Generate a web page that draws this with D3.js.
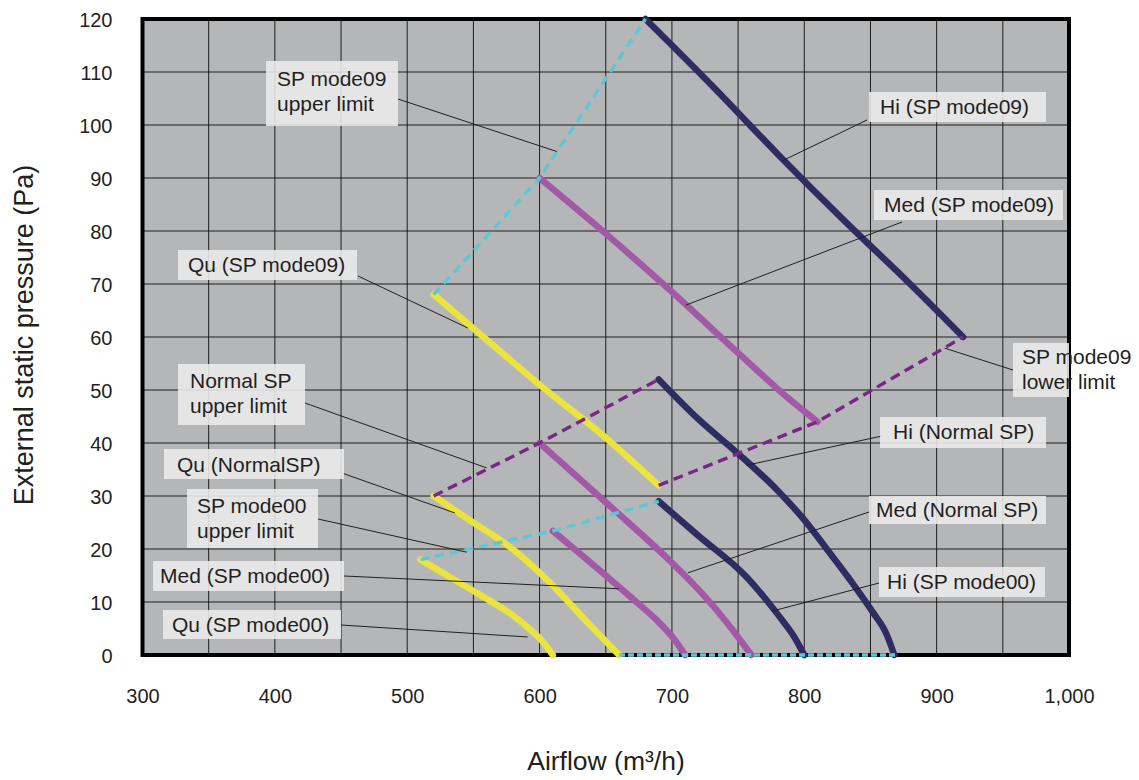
<!DOCTYPE html>
<html>
<head>
<meta charset="utf-8">
<script src="https://cdn.jsdelivr.net/npm/d3@7"></script>
<style>
  html, body { margin: 0; padding: 0; background: #ffffff; }
  svg { display: block; font-family: Arial, "Liberation Sans", Helvetica, sans-serif; }
</style>
</head>
<body>
<svg id="chart" width="1139" height="780"></svg>
<script>
// ---------- DATA ----------
const xTicks = [300, 400, 500, 600, 700, 800, 900, 1000];
const yTicks = [0, 10, 20, 30, 40, 50, 60, 70, 80, 90, 100, 110, 120];
const xTitle = "Airflow (m³/h)";
const yTitle = "External static pressure (Pa)";

// fan curves [airflow, pressure]
const hiSP09   = [[680,120],[730,107.5],[780,94.5],[830,82],[880,70],[920,60]];
const medSP09  = [[600,90],[650,79.5],[700,68.5],[750,57],[790,48],[810,44]];
const quSP09   = [[520,68],[560,59.5],[600,51],[650,41],[690,32]];
const hiNormal = [[690,52],[720,44.5],[750,38],[780,31],[800,25.5],[820,19],[838,13],[852,8],[862,4],[868,0]];
const medNormal= [[600,40],[655,27.7],[700,17.4],[725,11],[745,5],[760,0]];
const quNormal = [[520,30],[548,25.3],[577,20.5],[608,13.6],[633,7],[660,0]];
const hiSP00   = [[690,29],[720,22.5],[756,14.8],[770,10.8],[782,7],[792,3.6],[800,0]];
const medSP00  = [[610,23.4],[650,15],[675,9.6],[690,6.2],[701,3.2],[710,0]];
const quSP00   = [[510,18],[535,14.3],[560,10.6],[578,7.8],[592,5],[602,2.6],[610,0]];

// limit lines
const sp09Upper   = [[520,68],[600,90],[680,120]];
const normalUpper = [[520,30],[600,40],[690,52]];
const sp09Lower   = [[690,32],[810,44],[920,60]];
const sp00Upper   = [[510,18],[610,23.4],[690,29]];
const sp00Lower   = [[660,0],[870,0]];

// annotation texts and the data point each leader points to
const labelTexts = [
  ["SP mode09", "upper limit"], ["Hi (SP mode09)"], ["Med (SP mode09)"], ["Qu (SP mode09)"],
  ["Normal SP", "upper limit"], ["Qu (NormalSP)"], ["SP mode00", "upper limit"],
  ["Med (SP mode00)"], ["Qu (SP mode00)"], ["SP mode09", "lower limit"],
  ["Hi (Normal SP)"], ["Med (Normal SP)"], ["Hi (SP mode00)"]
];
const labelTargets = [
  [613,95], [783,93.2], [710.4,66], [545.8,61.7],
  [560,35.3], [536,26.8], [545,19.4],
  [659.8,12.5], [591,3.4], [906,57.9],
  [756.5,35.8], [712,15.5], [776,8.3]
];

// ---------- LAYOUT / STYLE ----------
const plot = { left: 142.5, right: 1069, top: 19, bottom: 655 };
const labelLayout = [
  { box:[266,61,398,126],  tx:277, by:[86,111], from:[398,99] },
  { box:[869,92,1046,122], tx:880, by:[114],    from:[867,120] },
  { box:[874,190,1063,220],tx:884, by:[212],    from:[902,222] },
  { box:[178,250,357,280], tx:188, by:[272],    from:[358,276] },
  { box:[178,364,305,425], tx:190, by:[388,413],from:[305,403] },
  { box:[164,449,344,479], tx:177, by:[472],    from:[339,472] },
  { box:[187,489,318,548], tx:197, by:[513,538],from:[318,519] },
  { box:[153,561,344,591], tx:160, by:[583],    from:[344,576] },
  { box:[163,610,341,639], tx:172, by:[632],    from:[341,625] },
  { box:[1013,343,1140,397],tx:1022,by:[364,389],from:[1013,370] },
  { box:[880,417,1046,448],tx:893, by:[439],    from:[882,436] },
  { box:[869,496,1046,524],tx:876, by:[517],    from:[869,512] },
  { box:[879,567,1045,597],tx:887, by:[589],    from:[879,583] }
];

const C = {
  bg: "#b5b6b8", grid: "#1e1e1e", text: "#231f20",
  navy: "#2e2d62", magenta: "#a35aa6", yellow: "#ece43e",
  cyan: "#5cc8d7", purple: "#7a2686"
};

const svg = d3.select("#chart");
const x = d3.scaleLinear().domain([300, 1000]).range([plot.left, plot.right]);
const y = d3.scaleLinear().domain([0, 120]).range([plot.bottom, plot.top]);

svg.append("defs").append("clipPath").attr("id", "plotclip")
  .append("rect").attr("x", plot.left).attr("y", plot.top)
  .attr("width", plot.right - plot.left).attr("height", plot.bottom - plot.top);

svg.append("rect").attr("x", plot.left).attr("y", plot.top)
  .attr("width", plot.right - plot.left).attr("height", plot.bottom - plot.top)
  .attr("fill", C.bg);

// grid
const gx = d3.range(300, 1001, 50);
const gy = d3.range(0, 121, 10);
svg.append("g").selectAll("line").data(gx).join("line")
  .attr("x1", d => x(d)).attr("x2", d => x(d))
  .attr("y1", plot.top).attr("y2", plot.bottom)
  .attr("stroke", C.grid).attr("stroke-width", 1);
svg.append("g").selectAll("line").data(gy).join("line")
  .attr("x1", plot.left).attr("x2", plot.right)
  .attr("y1", d => y(d)).attr("y2", d => y(d))
  .attr("stroke", C.grid).attr("stroke-width", 1);

// frame
svg.append("rect").attr("x", plot.left).attr("y", plot.top)
  .attr("width", plot.right - plot.left).attr("height", plot.bottom - plot.top)
  .attr("fill", "none").attr("stroke", "#000").attr("stroke-width", 4);

// axes tick labels
const xAxis = d3.axisBottom(x).tickValues(xTicks).tickSize(0).tickPadding(0)
  .tickFormat(d3.format(","));
const gxa = svg.append("g").attr("transform", `translate(0,${plot.bottom})`).call(xAxis);
gxa.select(".domain").remove();
gxa.selectAll("text").attr("dy", null).attr("y", 48)
  .attr("font-size", 20).attr("fill", C.text)
  .attr("font-family", "Arial, 'Liberation Sans', sans-serif");

const yAxis = d3.axisLeft(y).tickValues(yTicks).tickSize(0).tickPadding(0);
const gya = svg.append("g").attr("transform", `translate(${plot.left},0)`).call(yAxis);
gya.select(".domain").remove();
gya.selectAll("text").attr("dy", "0.35em").attr("x", -30)
  .attr("font-size", 20).attr("fill", C.text)
  .attr("font-family", "Arial, 'Liberation Sans', sans-serif");

// axis titles
svg.append("text").attr("x", 606).attr("y", 770).attr("text-anchor", "middle")
  .attr("font-size", 26.5).attr("fill", C.text).text(xTitle);
svg.append("text").attr("transform", "translate(33,335) rotate(-90)")
  .attr("text-anchor", "middle").attr("font-size", 27).attr("fill", C.text).text(yTitle);

// lines
const curve = d3.line().x(d => x(d[0])).y(d => y(d[1])).curve(d3.curveMonotoneX);
const straight = d3.line().x(d => x(d[0])).y(d => y(d[1]));

const curves = [
  [hiSP09, C.navy], [medSP09, C.magenta], [quSP09, C.yellow],
  [hiNormal, C.navy], [medNormal, C.magenta], [quNormal, C.yellow],
  [hiSP00, C.navy], [medSP00, C.magenta], [quSP00, C.yellow]
];
svg.append("g").selectAll("path").data(curves).join("path")
  .attr("d", d => curve(d[0])).attr("fill", "none")
  .attr("stroke", d => d[1]).attr("stroke-width", 6.5)
  .attr("stroke-linecap", "round").attr("stroke-linejoin", "round");

const limits = [
  [sp09Upper, C.cyan, "9,6"], [normalUpper, C.purple, "10,6"],
  [sp09Lower, C.purple, "10,6"], [sp00Upper, C.cyan, "9,6"],
  [sp00Lower, C.cyan, "6,3"]
];
svg.append("g").selectAll("path").data(limits).join("path")
  .attr("d", d => straight(d[0])).attr("fill", "none")
  .attr("stroke", d => d[1]).attr("stroke-width", 3.4)
  .attr("stroke-dasharray", d => d[2]);

// leaders
const ann = svg.append("g");
labelLayout.forEach((L, i) => {
  const t = labelTargets[i];
  ann.append("line")
    .attr("x1", L.from[0]).attr("y1", L.from[1])
    .attr("x2", x(t[0])).attr("y2", y(t[1]))
    .attr("stroke", C.text).attr("stroke-width", 1);
});
// boxes + texts
labelLayout.forEach((L, i) => {
  ann.append("rect")
    .attr("x", L.box[0]).attr("y", L.box[1])
    .attr("width", L.box[2] - L.box[0]).attr("height", L.box[3] - L.box[1])
    .attr("fill", "#ececec").attr("fill-opacity", 0.88)
    .attr("clip-path", "url(#plotclip)");
  labelTexts[i].forEach((s, j) => {
    ann.append("text").attr("x", L.tx).attr("y", L.by[j])
      .attr("font-size", 21).attr("fill", C.text).text(s);
  });
});
</script>
</body>
</html>
